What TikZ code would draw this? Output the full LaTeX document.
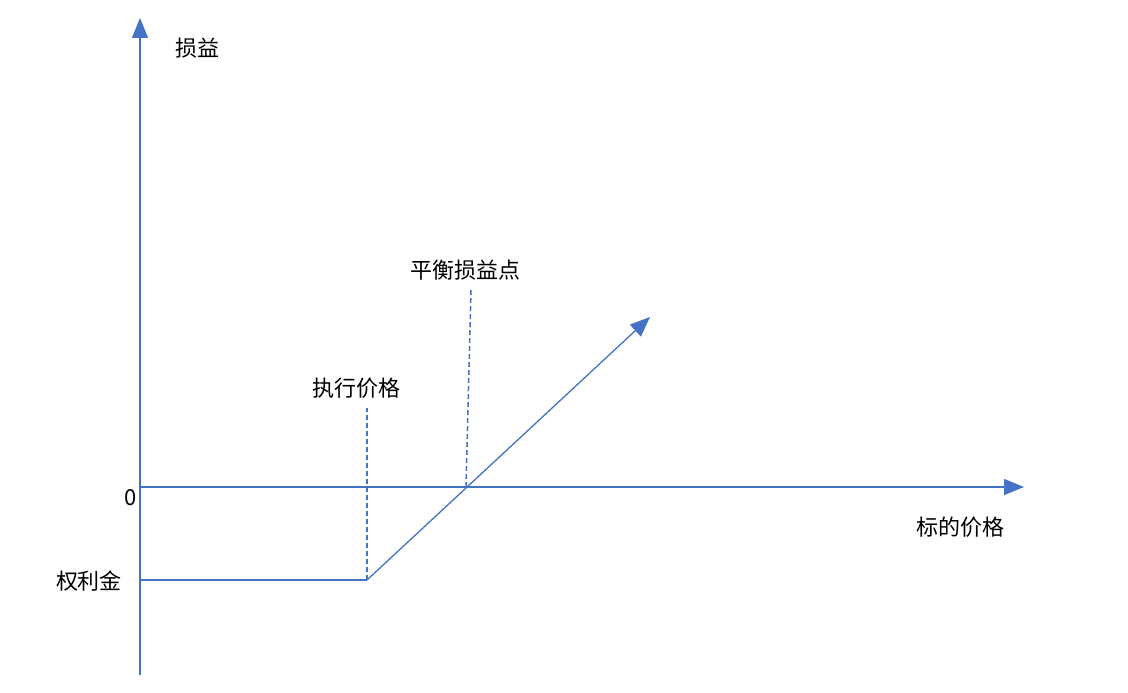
\documentclass[tikz,border=0pt]{standalone}
\usepackage{fontspec}
\newfontfamily\cjk{Noto Sans CJK SC}
\usetikzlibrary{arrows.meta}
\definecolor{ax}{HTML}{4472C4}
\begin{document}
\begin{tikzpicture}[x=1pt,y=-1pt,
  axis/.style={ax,line width=1.3pt,-{Triangle[length=20pt,width=16pt]}},
  dash line/.style={ax,line width=1.5pt,dash pattern=on 5pt off 3pt},
  lbl/.style={font=\cjk\fontsize{22}{26}\selectfont,inner sep=0pt}]
\useasboundingbox (0,0) rectangle (1128,693);
\coordinate (o) at (140,487);
\coordinate (ybot) at (140,675);
\coordinate (ytop) at (140,18);
\coordinate (xend) at (1024,487);
\coordinate (pl) at (140,580);
\coordinate (k) at (367,580);
\coordinate (kt) at (367,408);
\coordinate (be) at (466,487);
\coordinate (bt) at (471,290);
\coordinate (tip) at (650,317);
\draw[axis] (ybot) -- (ytop);
\draw[axis] (o) -- (xend);
\draw[ax,line width=1.3pt] (pl) -- (k);
\draw[axis] (k) -- (tip);
\draw[dash line] (k) -- (kt);
\draw[dash line] (be) -- (bt);
\node[lbl] (t1) at (197,48) {损益};
\node[lbl] (t2) at (465,270) {平衡损益点};
\node[lbl] (t3) at (356,388) {执行价格};
\node[lbl] (t4) at (131,498) {0};
\node[lbl] (t5) at (960,527) {标的价格};
\node[lbl] (t6) at (89,581) {权利金};
\end{tikzpicture}
\end{document}
